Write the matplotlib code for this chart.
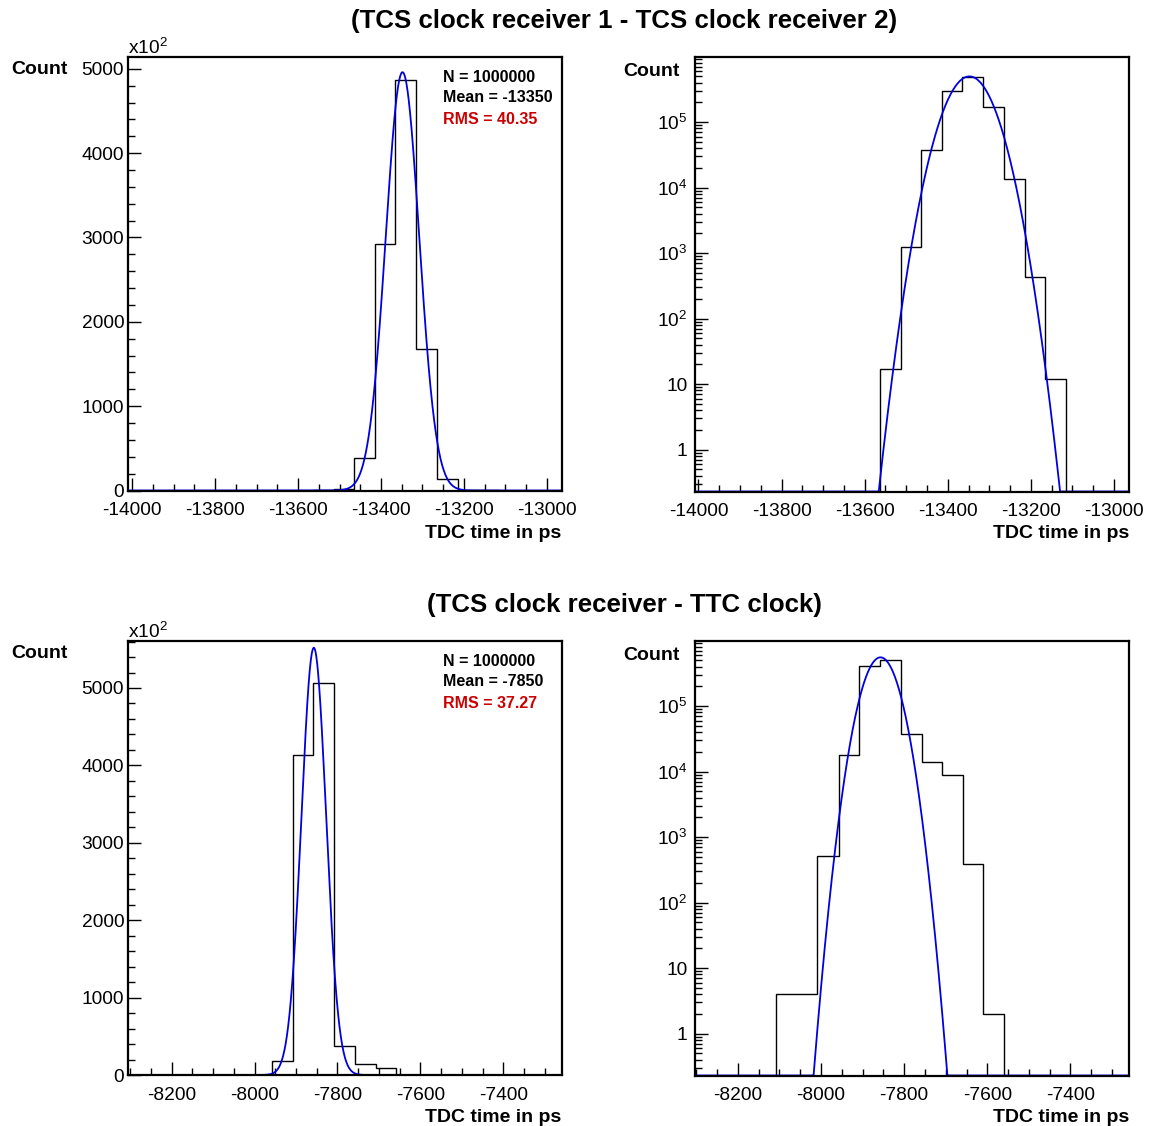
import numpy as np
import matplotlib
matplotlib.use("Agg")
import matplotlib.pyplot as plt
from matplotlib.ticker import MultipleLocator, FuncFormatter, LogLocator, FixedLocator

plt.rcParams['font.family'] = ['Liberation Sans', 'DejaVu Sans']
plt.rcParams['mathtext.fontset'] = 'custom'
plt.rcParams['mathtext.rm'] = 'Liberation Sans'

# ---------------- data ----------------
# Panel set 1: TCS clock receiver 1 - TCS clock receiver 2
edges1 = [-13563, -13513, -13464, -13415, -13365, -13315, -13265, -13215, -13165, -13116]
counts1 = [17, 1243, 38000, 292000, 487000, 168000, 13300, 424, 12]
fit1_amp, fit1_mean, fit1_sigma = 496000, -13348, 40.4
stats1 = ["N = 1000000", "Mean = -13350", "RMS = 40.35"]
xlim1 = (-14009.6, -12963.9)
xticks1 = [-14000, -13800, -13600, -13400, -13200, -13000]

# Panel set 2: TCS clock receiver - TTC clock
edges2 = [-8108, -8058, -8009, -7958, -7908, -7858, -7808, -7758, -7708, -7659, -7610, -7560]
counts2 = [4, 4, 510, 17800, 414000, 507000, 37000, 13800, 8800, 390, 2]
fit2_amp, fit2_mean, fit2_sigma = 552000, -7857, 29.7
stats2 = ["N = 1000000", "Mean = -7850", "RMS = 37.27"]
xlim2 = (-8304.5, -7259.0)
xticks2 = [-8200, -8000, -7800, -7600, -7400]

titles = ["(TCS clock receiver 1 - TCS clock receiver 2)", "(TCS clock receiver - TTC clock)"]
ylin_max = [514000, 560700]
ylog_lim = (0.23, 9.8e5)

W, H = 1153, 1126
fig = plt.figure(figsize=(W / 100, H / 100), dpi=100)
fig.patch.set_facecolor('white')


def rect(x0, y0, x1, y1):
    return [x0 / W, 1 - y1 / H, (x1 - x0) / W, (y1 - y0) / H]


TICK_FS = 13.8
LAB_FS = 14
BLUE = '#0000e0'


def style_axes(ax, xticks, xlim):
    for s in ax.spines.values():
        s.set_linewidth(1.6)
    ax.set_xlim(*xlim)
    ax.xaxis.set_major_locator(FixedLocator(xticks))
    ax.xaxis.set_minor_locator(MultipleLocator(50))
    ax.xaxis.set_major_formatter(FuncFormatter(lambda v, p: f"{v:.0f}"))
    ax.tick_params(which='both', direction='in', top=False, right=False,
                   labelsize=TICK_FS, width=1.0)
    ax.tick_params(which='major', length=9.5)
    ax.tick_params(which='minor', length=4.8)
    ax.tick_params(axis='x', pad=8.5)
    ax.tick_params(axis='y', pad=3)


panels = [
    (edges1, counts1, (fit1_amp, fit1_mean, fit1_sigma), stats1, xlim1, xticks1,
     (128.3, 57, 561.7, 490.5), (694.5, 57, 1129, 491.5), 0),
    (edges2, counts2, (fit2_amp, fit2_mean, fit2_sigma), stats2, xlim2, xticks2,
     (128.3, 641, 561.7, 1075), (694.5, 641, 1129, 1075.5), 1),
]

for edges, counts, fit, stats, xlim, xticks, rl, rr, k in panels:
    e = np.array(edges, float)
    c = np.array(counts, float)
    amp, mu, sig = fit
    xs = np.linspace(xlim[0], xlim[1], 2000)
    g = amp * np.exp(-0.5 * ((xs - mu) / sig) ** 2)

    # linear panel
    ax = fig.add_axes(rect(*rl))
    ax.stairs(c, e, baseline=0, color='black', lw=1.0)
    ax.plot(xs, g, color=BLUE, lw=1.3)
    style_axes(ax, xticks, xlim)
    ax.set_ylim(0, ylin_max[k])
    ax.yaxis.set_major_locator(MultipleLocator(100000))
    ax.yaxis.set_minor_locator(MultipleLocator(20000))
    ax.yaxis.set_major_formatter(FuncFormatter(lambda v, p: f"{v/100:.0f}"))
    ax.text(0.0, 1.0 - 1 / 434, r'x10$^{2}$', transform=ax.transAxes,
            ha='left', va='bottom', fontsize=TICK_FS)
    # stats
    top = rl[1]
    for i, (txt, dy) in enumerate(zip(stats, [20, 40, 63])):
        fig.text(443 / W, 1 - (top + dy) / H, txt, fontsize=11.5, fontweight='bold',
                 color='#cc0000' if i == 2 else 'black', ha='left', va='center')
    fig.text(68 / W, 1 - (top + 13) / H, 'Count', fontsize=LAB_FS, fontweight='bold',
             ha='right', va='center')
    fig.text(rl[2] / W, 1 - (rl[3] + 43) / H, 'TDC time in ps', fontsize=LAB_FS,
             fontweight='bold', ha='right', va='center')

    # log panel
    axl = fig.add_axes(rect(*rr))
    axl.set_yscale('log')
    axl.stairs(c, e, baseline=1e-3, color='black', lw=1.0)
    axl.plot(xs, np.maximum(g, ylog_lim[0] * 1.001), color=BLUE, lw=1.3)
    style_axes(axl, xticks, xlim)
    axl.set_ylim(*ylog_lim)
    axl.yaxis.set_major_locator(LogLocator(base=10, numticks=20))
    axl.yaxis.set_minor_locator(LogLocator(base=10, subs=np.arange(2, 10), numticks=100))

    def logfmt(v, p):
        n = int(round(np.log10(v)))
        if n == 0:
            return "1"
        if n == 1:
            return "10"
        return r'$\mathregular{10^{%d}}$' % n
    axl.yaxis.set_major_formatter(FuncFormatter(logfmt))
    axl.yaxis.set_minor_formatter(FuncFormatter(lambda v, p: ""))
    axl.tick_params(axis='y', pad=5)
    fig.text(680 / W, 1 - (rr[1] + 14) / H, 'Count', fontsize=LAB_FS, fontweight='bold',
             ha='right', va='center')
    fig.text(rr[2] / W, 1 - (rr[3] + 42) / H, 'TDC time in ps', fontsize=LAB_FS,
             fontweight='bold', ha='right', va='center')

fig.text(624 / W, 1 - 21 / H, titles[0], fontsize=18.6, fontweight='bold', ha='center', va='center')
fig.text(624 / W, 1 - 605 / H, titles[1], fontsize=18.6, fontweight='bold', ha='center', va='center')

fig.savefig('out.png', dpi=100)
